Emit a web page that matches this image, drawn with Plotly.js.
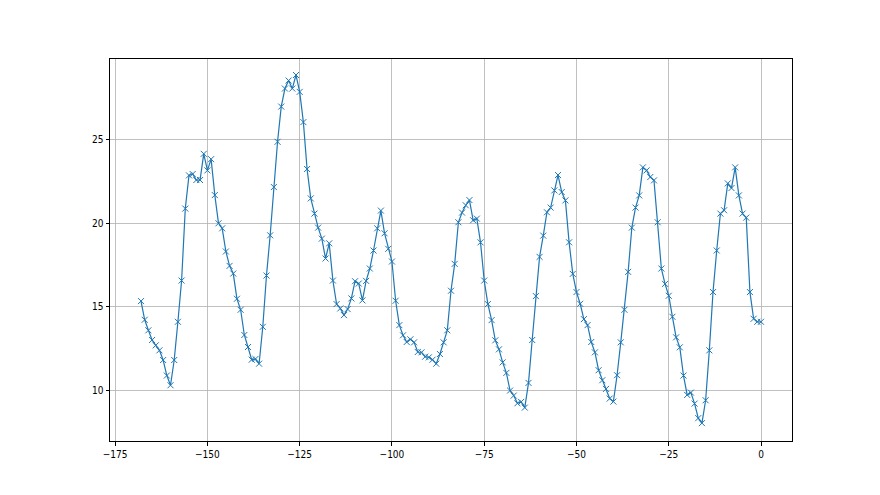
<!DOCTYPE html>
<html>
<head>
<meta charset="utf-8">
<script src="https://cdn.plot.ly/plotly-3.0.1.min.js"></script>
<style>html,body{margin:0;padding:0;background:#fff;}#chart{width:880px;height:495px;}</style>
</head>
<body>
<div id="chart"></div>
<script>
const hours = [];
for (let h = -168; h <= 0; h++) hours.push(h);

const values = [
  15.34, 14.22, 13.59, 13.01, 12.69, 12.39, 11.81, 10.88, 10.30, 11.81,
  14.10, 16.57, 20.88, 22.87, 22.95, 22.59, 22.59, 24.16, 23.17, 23.84,
  21.69, 20.00, 19.70, 18.31, 17.45, 16.99, 15.48, 14.82, 13.31, 12.59,
  11.83, 11.87, 11.59, 13.80, 16.87, 19.28, 22.17, 24.88, 26.99, 28.07,
  28.55, 28.07, 28.88, 27.87, 26.06, 23.25, 21.49, 20.58, 19.74, 19.08,
  17.89, 18.80, 16.57, 15.16, 14.90, 14.50, 14.86, 15.50, 16.53, 16.39,
  15.38, 16.55, 17.29, 18.37, 19.70, 20.76, 19.40, 18.47, 17.71, 15.36,
  13.90, 13.29, 12.89, 13.05, 12.87, 12.29, 12.27, 12.01, 11.97, 11.83,
  11.59, 12.17, 12.87, 13.59, 15.96, 17.57, 20.06, 20.64, 21.08, 21.39,
  20.18, 20.28, 18.86, 16.57, 15.16, 14.20, 12.99, 12.45, 11.67, 11.04,
  9.98, 9.68, 9.22, 9.30, 8.96, 10.44, 13.01, 15.64, 17.99, 19.26,
  20.66, 20.94, 21.97, 22.89, 21.87, 21.37, 18.86, 16.97, 15.88, 15.18,
  14.26, 13.90, 12.89, 12.27, 11.20, 10.60, 10.08, 9.50, 9.32, 10.90,
  12.87, 14.82, 17.09, 19.74, 20.94, 21.67, 23.35, 23.17, 22.77, 22.57,
  20.06, 17.29, 16.37, 15.66, 14.40, 13.17, 12.57, 10.88, 9.72, 9.86,
  9.20, 8.33, 8.03, 9.40, 12.39, 15.88, 18.37, 20.58, 20.78, 22.39,
  22.11, 23.35, 21.67, 20.58, 20.34, 15.88, 14.28, 14.10, 14.10
];

const xTicks = [-175, -150, -125, -100, -75, -50, -25, 0];
const yTicks = [10, 15, 20, 25];

const axisCommon = {
  showline: true, mirror: true, linecolor: '#000', linewidth: 1,
  ticks: 'outside', ticklen: 3.5, tickwidth: 1, tickcolor: '#000',
  showgrid: true, gridcolor: '#b0b0b0', gridwidth: 0.8,
  zeroline: false,
  tickfont: {family: '"Liberation Sans Narrow", "DejaVu Sans Condensed", sans-serif', size: 10, color: '#000'}
};

const trace = {
  x: hours, y: values, type: 'scatter', mode: 'lines+markers',
  line: {color: '#1f77b4', width: 1.2},
  marker: {symbol: 'x-thin', size: 6, color: '#1f77b4', line: {width: 1, color: '#1f77b4'}},
  hoverinfo: 'skip'
};

const layout = {
  width: 880, height: 495,
  margin: {l: 110, r: 88, t: 59, b: 54, pad: 0},
  paper_bgcolor: '#fff', plot_bgcolor: '#fff',
  showlegend: false,
  xaxis: Object.assign({}, axisCommon, {range: [-176.4, 8.4], tickvals: xTicks, ticktext: xTicks.map(v => v < 0 ? '\u2212' + Math.abs(v) : String(v))}),
  yaxis: Object.assign({}, axisCommon, {range: [6.96, 29.84], tickvals: yTicks})
};

Plotly.newPlot('chart', [trace], layout, {staticPlot: true, displayModeBar: false});
</script>
</body>
</html>
